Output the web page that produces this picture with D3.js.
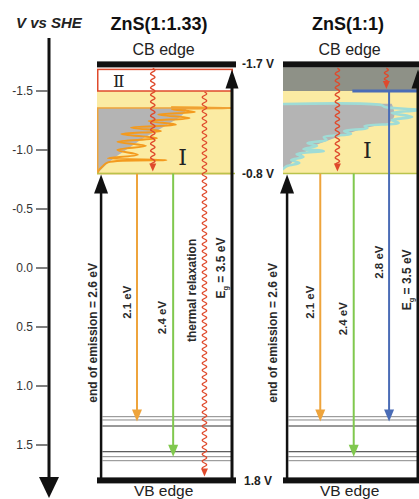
<!DOCTYPE html>
<html><head><meta charset="utf-8">
<script src="https://cdn.jsdelivr.net/npm/d3@7"></script>
<style>body{margin:0;background:#fff}svg{display:block;font-family:"Liberation Sans",Arial,sans-serif}</style>
</head><body><svg id="c" width="419" height="499"></svg>
<script>
// ---------------- DATA ----------------
const vTicks = [-1.5, -1.0, -0.5, 0.0, 0.5, 1.0, 1.5];
const samples = ["ZnS(1:1.33)", "ZnS(1:1)"];
const cbEdge = -1.7;          // V vs SHE
const vbEdge = 1.8;
const emissionTop = -0.8;
const endOfEmission = 2.6;    // eV
const bandGap = 3.5;          // eV
const regionII = [-1.7, -1.5];
const regionITop = -1.356;
const blueLevel = -1.5;
const emission1 = [2.1, 2.4];
const emission2 = [2.1, 2.4, 2.8];
const emission2Start = [-0.8, -0.8, -1.5];
const trapLevels = [1.260, 1.288, 1.339, 1.557, 1.599, 1.633];
const trapDark = [false, false, true, true, false, false];
// trap density of states (energy in V, relative DOS 0..1)
const dos1Energy = [-1.362,-1.356,-1.345,-1.322,-1.300,-1.270,-1.245,-1.215,-1.190,-1.160,-1.135,-1.100,-1.070,-1.035,-1.000,-0.960,-0.930,-0.915,-0.895,-0.860,-0.830,-0.805];
const dos1Value  = [0.55,0.99,0.55,0.72,0.45,0.68,0.38,0.58,0.25,0.47,0.18,0.44,0.15,0.36,0.15,0.30,0.08,0.51,0.08,0.04,0.015,0.005];
const dos1EnvEnergy = [-1.356,-1.288,-1.237,-1.170,-1.100,-1.030,-0.960,-0.880,-0.810];
const dos1EnvValue  = [0.66,0.62,0.55,0.45,0.34,0.25,0.16,0.07,0.01];
const dos2Energy = [-1.390,-1.381,-1.364,-1.339,-1.314,-1.280,-1.254,-1.229,-1.203,-1.186,-1.161,-1.136,-1.110,-1.085,-1.059,-1.034,-1.008,-0.992,-0.966,-0.941,-0.915,-0.890,-0.864,-0.839];
const dos2Value  = [0.00,0.72,0.75,0.99,0.80,0.95,0.80,0.85,0.60,0.62,0.45,0.50,0.30,0.32,0.18,0.25,0.15,0.30,0.10,0.15,0.06,0.12,0.03,0.00];
const dos2EnvEnergy = [-1.392,-1.300,-1.230,-1.190,-1.140,-1.090,-1.030,-0.970,-0.920,-0.870,-0.840];
const dos2EnvValue  = [0.80,0.82,0.78,0.62,0.48,0.35,0.22,0.15,0.09,0.04,0.0];

// ---------------- LAYOUT ----------------
const svg = d3.select("#c");
const W = 419, H = 499;
svg.append("rect").attr("width", W).attr("height", H).attr("fill", "#fff");
const y = d3.scaleLinear().domain([-1.5, 1.5]).range([91, 445]);
const panelX = [97, 283], panelW = 136;
const C = {yellow:"#fbeba3", gray:"#b4b4b4", orange:"#f39a1e", orangeLine:"#eea43c", red:"#df4a2c",
  green:"#80c84e", blue:"#4a6cb6", cyan:"#9fdcd6", dark:"#8e9187", text:"#2a2a2a"};

const defs = svg.append("defs");

function head(g, x, yTip, dir, w, h, color) {
  g.append("path").attr("d", `M${x},${yTip} L${x - w/2},${yTip - dir*h} L${x + w/2},${yTip - dir*h} Z`).attr("fill", color);
}
function wavy(g, x, y0, y1, color, amp = 2.2, period = 7) {
  const pts = d3.range(y0, y1, 0.5).map(v => [x + amp*Math.sin((v - y0)/period*2*Math.PI), v]);
  g.append("path").attr("d", d3.line()(pts)).attr("fill", "none").attr("stroke", color).attr("stroke-width", 1.3);
  head(g, x, y1 + 7, 1, 7, 8, color);
}
function rotLabel(g, x, yc, txt, size, sub) {
  const t = g.append("text").attr("transform", `translate(${x},${yc}) rotate(-90)`).attr("text-anchor", "middle")
    .attr("font-size", size).attr("font-weight", "bold").attr("fill", C.text);
  if (sub) {
    t.append("tspan").text("E");
    t.append("tspan").text("g").attr("font-size", size*0.6).attr("dy", 3);
    t.append("tspan").text(" = " + txt).attr("dy", -3);
  } else t.text(txt);
}

// ---------------- LEFT AXIS ----------------
const ax = svg.append("g");
ax.append("line").attr("x1", 49).attr("x2", 49).attr("y1", 38).attr("y2", 482).attr("stroke", "#111").attr("stroke-width", 3);
head(ax, 49, 498, 1, 20, 21, "#111");
vTicks.forEach(v => {
  ax.append("line").attr("x1", 36).attr("x2", 48).attr("y1", y(v)).attr("y2", y(v)).attr("stroke", "#555").attr("stroke-width", 1.5);
  ax.append("text").attr("x", 33).attr("y", y(v) + 4).attr("text-anchor", "end").attr("font-size", 12).attr("fill", "#333")
    .text(v.toFixed(1));
});
svg.append("text").attr("x", 16).attr("y", 28).attr("font-size", 15).attr("font-weight", "bold").attr("font-style", "italic")
  .attr("fill", "#222").text("V vs SHE");

// ---------------- PANELS ----------------
samples.forEach((name, i) => {
  const g = svg.append("g");
  const x = d3.scaleLinear().domain([0, 1]).range([panelX[i], panelX[i] + panelW]);
  const clipId = "clip" + i;
  defs.append("clipPath").attr("id", clipId).append("rect")
    .attr("x", x(0)).attr("y", y(cbEdge)).attr("width", panelW).attr("height", y(emissionTop) - y(cbEdge));

  // background regions
  g.append("rect").attr("x", x(0)).attr("y", y(regionII[1])).attr("width", panelW)
    .attr("height", y(emissionTop) - y(regionII[1])).attr("fill", C.yellow);
  if (i === 0) {
    g.append("rect").attr("x", x(0) + 0.75).attr("y", y(regionII[0]) + 2).attr("width", panelW - 1.5)
      .attr("height", y(regionII[1]) - y(regionII[0]) - 2).attr("fill", "#fff").attr("stroke", C.red).attr("stroke-width", 1.5);
  } else {
    g.append("rect").attr("x", x(0)).attr("y", y(regionII[0])).attr("width", panelW + 3)
      .attr("height", y(regionII[1]) - y(regionII[0])).attr("fill", C.dark);
  }

  // DOS
  const E = i === 0 ? dos1Energy : dos2Energy, V = i === 0 ? dos1Value : dos2Value;
  const EE = i === 0 ? dos1EnvEnergy : dos2EnvEnergy, EV = i === 0 ? dos1EnvValue : dos2EnvValue;
  const pts = E.map((e, k) => [e, V[k]]);
  const env = EE.map((e, k) => [e, EV[k]]);
  const dg = g.append("g").attr("clip-path", `url(#${clipId})`);
  const curve = d3.curveCatmullRom.alpha(0.5);
  dg.append("path").attr("d", d3.area().y(d => y(d[0])).x0(x(0)).x1(d => x(d[1])).curve(d3.curveMonotoneY)(env)).attr("fill", C.gray);
  dg.append("path").attr("d", d3.line().y(d => y(d[0])).x(d => x(d[1])).curve(curve)(pts))
    .attr("fill", "none").attr("stroke", i === 0 ? C.orange : C.cyan).attr("stroke-width", i === 0 ? 2 : 2.6)
    .attr("stroke-linejoin", "round").attr("stroke-linecap", "round");

  if (i === 0) {
    g.append("rect").attr("x", x(0) + 0.75).attr("y", y(regionITop)).attr("width", panelW - 1.5)
      .attr("height", y(emissionTop) - y(regionITop)).attr("fill", "none").attr("stroke", C.orangeLine).attr("stroke-width", 1.5);
    g.append("text").attr("x", x(0.16)).attr("y", y(regionII[1]) - 4).attr("text-anchor", "middle")
      .attr("font-family", "DejaVu Serif, serif").attr("font-size", 17).attr("fill", "#222").text("Ⅱ");
  } else {
    g.append("line").attr("x1", x(0.51)).attr("x2", x(1) + 3).attr("y1", y(blueLevel)).attr("y2", y(blueLevel))
      .attr("stroke", C.blue).attr("stroke-width", 3);
  }
  g.append("text").attr("x", i === 0 ? x(0.63) : x(0.62)).attr("y", i === 0 ? 165 : 158).attr("text-anchor", "middle")
    .attr("font-family", "DejaVu Serif, serif").attr("font-size", 22).attr("fill", "#222").text("Ⅰ");

  // -0.8 edge line
  g.append("line").attr("x1", x(0)).attr("x2", x(1) + 2).attr("y1", y(emissionTop)).attr("y2", y(emissionTop))
    .attr("stroke", "#b9c34c").attr("stroke-width", 1.5);

  // trap levels
  trapLevels.forEach((t, k) => {
    g.append("line").attr("x1", x(0.04)).attr("x2", x(1)).attr("y1", y(t)).attr("y2", y(t))
      .attr("stroke", trapDark[k] ? "#333" : "#888").attr("stroke-width", 1);
  });

  // emission arrows
  const em = i === 0 ? emission1 : emission2;
  const starts = i === 0 ? em.map(() => emissionTop) : emission2Start;
  const ex = i === 0 ? [0.294, 0.56] : [0.274, 0.52, 0.78];
  const cols = [C.orangeLine, C.green, C.blue];
  const lbl = i === 0 ? [[-10, 0.29], [-11, 0.42]] : [[-10, 0.29], [-11, 0.43], [-10, -0.05]];
  em.forEach((e, k) => {
    const xx = x(ex[k]), y0 = y(starts[k]), y1 = y(starts[k] + e);
    g.append("line").attr("x1", xx).attr("x2", xx).attr("y1", y0).attr("y2", y1 - 10).attr("stroke", cols[k]).attr("stroke-width", 2);
    head(g, xx, y1, 1, 10, 12, cols[k]);
    rotLabel(g, xx + lbl[k][0] + 4, y(lbl[k][1]), e.toFixed(1) + " eV", 11.5);
  });

  // wavy thermal relaxation
  if (i === 0) {
    wavy(g, x(0.41), y(cbEdge) + 1, y(emissionTop) - 9, C.red);
    wavy(g, x(0.79), y(regionII[1]) + 1, y(vbEdge) - 11, C.red);
    rotLabel(g, x(0.79) - 8, y(0.19), "thermal relaxation", 12);
  } else {
    wavy(g, x(0.40), y(cbEdge) + 1, y(emissionTop) - 9, C.red);
    wavy(g, x(0.76), y(cbEdge) + 1, y(blueLevel) - 9, C.red, 2, 6);
  }

  // end of emission arrow
  const eoeX = x(0.03);
  g.append("line").attr("x1", eoeX).attr("x2", eoeX).attr("y1", y(vbEdge)).attr("y2", y(vbEdge - endOfEmission) + 15)
    .attr("stroke", "#111").attr("stroke-width", 2.5);
  head(g, eoeX, y(vbEdge - endOfEmission) + 1, -1, 14, 19, "#111");
  rotLabel(g, eoeX - (i === 0 ? 4 : 10), y(0.55), "end of emission = " + endOfEmission.toFixed(1) + " eV", 12);

  // band gap arrow
  const gx = x(1) - 1;
  g.append("line").attr("x1", gx).attr("x2", gx).attr("y1", y(vbEdge)).attr("y2", y(cbEdge) + 15)
    .attr("stroke", "#111").attr("stroke-width", 3);
  head(g, gx, y(cbEdge) + 2, -1, 13, 19, "#111");
  rotLabel(g, gx - 7, y(i === 0 ? 0.0 : 0.1), bandGap.toFixed(1) + " eV", 12, true);

  // CB / VB bars
  g.append("rect").attr("x", x(0)).attr("y", y(cbEdge) - 6).attr("width", panelW + 3).attr("height", 6).attr("fill", "#111");
  g.append("rect").attr("x", x(0)).attr("y", y(vbEdge) - 3).attr("width", panelW + 3).attr("height", 6).attr("fill", "#111");

  // titles
  g.append("text").attr("x", i === 0 ? 159 : 348).attr("y", 30).attr("text-anchor", "middle").attr("font-size", 18)
    .attr("font-weight", "bold").attr("fill", "#111").text(name);
  g.append("text").attr("x", x(0.49)).attr("y", 55).attr("text-anchor", "middle").attr("font-size", 16).attr("fill", "#222").text("CB edge");
  g.append("text").attr("x", x(0.49)).attr("y", 495.5).attr("text-anchor", "middle").attr("font-size", 15.5).attr("fill", "#222").text("VB edge");
});

// edge voltage labels
const vl = svg.append("g").attr("font-size", 12).attr("font-weight", "bold").attr("fill", "#222");
vl.append("text").attr("x", 242).attr("y", y(cbEdge) + 1).text(cbEdge.toFixed(1) + " V");
vl.append("text").attr("x", 242).attr("y", y(emissionTop) + 4).text(emissionTop.toFixed(1) + " V");
vl.append("text").attr("x", 244).attr("y", y(vbEdge) + 5).text(vbEdge.toFixed(1) + " V");
</script></body></html>
